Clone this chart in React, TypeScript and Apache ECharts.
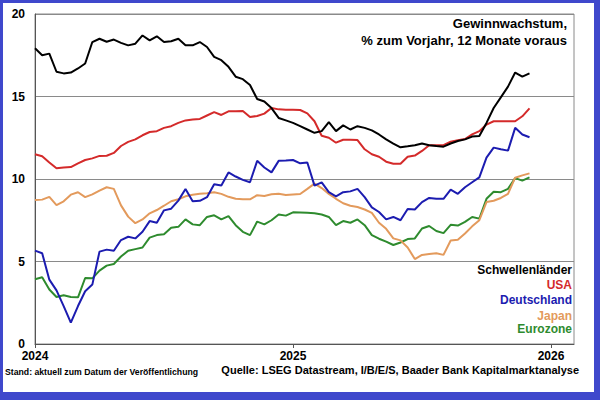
import React, { useEffect, useRef } from "react";
import * as echarts from "echarts";

// x grid: months since Jan 2024 (sampled every third of a month)
const months: number[] = Array.from({ length: 70 }, (_, i) => i / 3);

const yearTicks = [0, 12, 24];
const yearLabels = ["2024", "2025", "2026"];

const schwellenlaender = [
  17.92, 17.5, 17.6, 16.5, 16.4, 16.45, 16.7, 17.0, 18.3, 18.5,
  18.32, 18.45, 18.25, 18.1, 18.2, 18.7, 18.4, 18.65, 18.3, 18.35,
  18.5, 18.1, 18.1, 18.3, 18.0, 17.4, 17.2, 16.8, 16.2, 16.05,
  15.7, 14.85, 14.7, 14.3, 13.7, 13.55, 13.4, 13.2, 13.0, 12.8,
  12.9, 13.45, 12.9, 13.25, 13.0, 13.2, 13.1, 12.95, 12.7, 12.4,
  12.15, 11.92, 11.98, 12.05, 12.15, 12.05, 12.0, 11.96, 12.15, 12.3,
  12.4, 12.57, 12.6, 13.4, 14.3, 14.95, 15.6, 16.45, 16.2, 16.4,
];

const usa = [
  11.5, 11.38, 11.0, 10.65, 10.7, 10.72, 10.95, 11.15, 11.25, 11.4,
  11.41, 11.58, 12.0, 12.25, 12.4, 12.65, 12.85, 12.9, 13.1, 13.2,
  13.4, 13.55, 13.6, 13.64, 13.85, 14.05, 13.88, 14.1, 14.1, 14.12,
  13.76, 13.82, 13.96, 14.3, 14.22, 14.2, 14.2, 14.18, 13.98, 13.5,
  12.62, 12.5, 12.2, 12.38, 12.38, 12.36, 11.8, 11.5, 11.35, 11.05,
  10.92, 10.92, 11.35, 11.42, 11.7, 12.05, 12.05, 12.05, 12.26, 12.35,
  12.42, 12.7, 12.9, 13.3, 13.5, 13.5, 13.5, 13.5, 13.8, 14.28,
];

const deutschland = [
  5.66, 5.5, 3.9, 3.25, 2.3, 1.3, 2.3, 3.2, 3.6, 5.6,
  5.72, 5.65, 6.3, 6.5, 6.4, 6.8, 7.45, 7.35, 8.1, 8.2,
  8.69, 9.4, 8.65, 8.68, 8.9, 9.68, 9.6, 10.4, 10.15, 9.95,
  9.8, 11.1, 10.7, 10.4, 11.1, 11.12, 11.15, 10.95, 11.0, 9.6,
  9.8, 9.2, 8.95, 9.2, 9.25, 9.4, 8.9, 8.28, 8.0, 7.55,
  7.7, 7.5, 8.18, 8.15, 8.6, 8.85, 8.8, 8.8, 9.35, 9.1,
  9.5, 9.8, 10.1, 11.3, 11.9, 11.8, 11.72, 13.1, 12.7, 12.53,
];

const japan = [
  8.73, 8.75, 8.92, 8.42, 8.65, 9.05, 9.2, 8.9, 9.07, 9.3,
  9.5, 9.4, 8.4, 7.72, 7.32, 7.55, 7.92, 8.12, 8.38, 8.65,
  8.77, 8.95, 9.05, 9.1, 9.13, 9.2, 9.1, 8.92, 8.8, 8.77,
  8.77, 9.02, 8.97, 9.08, 9.1, 9.03, 9.06, 9.09, 9.4, 9.72,
  9.45, 9.1, 8.8, 8.53, 8.38, 8.3, 8.15, 7.95, 7.35, 6.98,
  6.4, 6.28, 5.85, 5.15, 5.4, 5.45, 5.5, 5.4, 6.27, 6.32,
  6.7, 7.13, 7.5, 8.6, 8.68, 8.85, 9.1, 10.08, 10.22, 10.34,
];

const eurozone = [
  3.92, 4.05, 3.3, 2.85, 2.95, 2.85, 2.83, 4.0, 3.98, 4.45,
  4.75, 4.85, 5.3, 5.65, 5.75, 5.85, 6.45, 6.6, 6.65, 7.05,
  7.1, 7.55, 7.25, 7.2, 7.7, 7.8, 7.55, 7.75, 7.2, 6.8,
  6.6, 7.42, 7.25, 7.5, 7.85, 7.78, 7.98, 7.97, 7.95, 7.93,
  7.85, 7.7, 7.2, 7.45, 7.35, 7.55, 7.2, 6.6, 6.38, 6.2,
  6.0, 6.15, 6.36, 6.4, 7.0, 7.15, 6.85, 6.72, 7.22, 7.18,
  7.4, 7.7, 7.6, 8.8, 9.23, 9.2, 9.4, 10.05, 9.9, 10.1,
];

const seriesDefs = [
  { name: "Eurozone", data: eurozone, color: "#2e8b2e" },
  { name: "Japan", data: japan, color: "#e39a5c" },
  { name: "Deutschland", data: deutschland, color: "#1c1cb0" },
  { name: "USA", data: usa, color: "#d42a2a" },
  { name: "Schwellenländer", data: schwellenlaender, color: "#000000" },
];

const legendOrder = ["Schwellenländer", "USA", "Deutschland", "Japan", "Eurozone"];

const FONT = "'Liberation Sans', Arial, sans-serif";

export default function App() {
  const ref = useRef<HTMLDivElement>(null);

  useEffect(() => {
    if (!ref.current) return;
    const chart = echarts.init(ref.current, undefined, { renderer: "svg" });
    const legendY = [271, 286, 301, 317, 330];
    const colorOf = (n: string) => seriesDefs.find((s) => s.name === n)!.color;
    chart.setOption({
      animation: false,
      textStyle: { fontFamily: FONT },
      grid: {
        left: 35,
        top: 14,
        right: 26,
        bottom: 56,
        show: true,
        borderColor: "#8a8a8a",
        borderWidth: 1,
      },
      xAxis: {
        type: "value",
        min: 0,
        max: 25.07,
        interval: 12,
        axisLine: { show: true, lineStyle: { color: "#555", width: 1 } },
        axisTick: {
          show: true,
          customValues: yearTicks,
          length: 4,
          inside: false,
          lineStyle: { color: "#555" },
        },
        axisLabel: {
          customValues: yearTicks,
          formatter: (v: number) => yearLabels[yearTicks.indexOf(Math.round(v))] ?? "",
          color: "#000",
          fontWeight: "bold",
          fontSize: 12,
          lineHeight: 12,
          fontFamily: FONT,
          margin: 6,
        },
        splitLine: { show: false },
      },
      yAxis: {
        type: "value",
        min: 0,
        max: 20,
        interval: 5,
        axisLine: { show: true, lineStyle: { color: "#555", width: 1 } },
        axisTick: { show: false },
        axisLabel: {
          color: "#000",
          fontWeight: "bold",
          fontSize: 12,
          lineHeight: 10,
          fontFamily: FONT,
          margin: 10,
        },
        splitLine: { show: true, lineStyle: { color: "#8a8a8a", width: 1 } },
      },
      series: seriesDefs.map((s) => ({
        name: s.name,
        type: "line",
        data: months.map((m, i) => [m, s.data[i]]),
        showSymbol: false,
        symbol: "none",
        lineStyle: { color: s.color, width: 2 },
        itemStyle: { color: s.color },
        silent: true,
      })),
      graphic: [
        {
          type: "text",
          right: 33,
          top: 17,
          style: {
            text: "Gewinnwachstum,",
            font: `bold 13px ${FONT}`,
            fill: "#000",
          },
        },
        {
          type: "text",
          right: 33,
          top: 34,
          style: {
            text: "% zum Vorjahr, 12 Monate voraus",
            font: `bold 13px ${FONT}`,
            fill: "#000",
          },
        },
        ...legendOrder.map((n, i) => ({
          type: "text",
          right: 28,
          top: legendY[i] - 7,
          style: {
            text: n,
            font: `bold 12px ${FONT}`,
            fill: colorOf(n),
          },
        })),
        {
          type: "text",
          left: 5,
          top: 367,
          style: {
            text: "Stand: aktuell zum Datum der Veröffentlichung",
            font: `bold 8.7px ${FONT}`,
            fill: "#000",
          },
        },
        {
          type: "text",
          right: 21,
          top: 364,
          style: {
            text: "Quelle: LSEG Datastream, I/B/E/S, Baader Bank Kapitalmarktanalyse",
            font: `bold 11px ${FONT}`,
            fill: "#000",
          },
        },
      ],
    });
    return () => chart.dispose();
  }, []);

  return (
    <div
      style={{
        position: "fixed",
        left: 0,
        top: 0,
        width: 600,
        height: 400,
        background: "#3f48cc",
        overflow: "hidden",
      }}
    >
      <div
        style={{
          position: "absolute",
          left: 3,
          top: 3,
          width: 591,
          height: 389,
          background: "#ffffff",
        }}
      />
      <div
        ref={ref}
        style={{ position: "absolute", left: 0, top: 0, width: 600, height: 400 }}
      />
    </div>
  );
}
